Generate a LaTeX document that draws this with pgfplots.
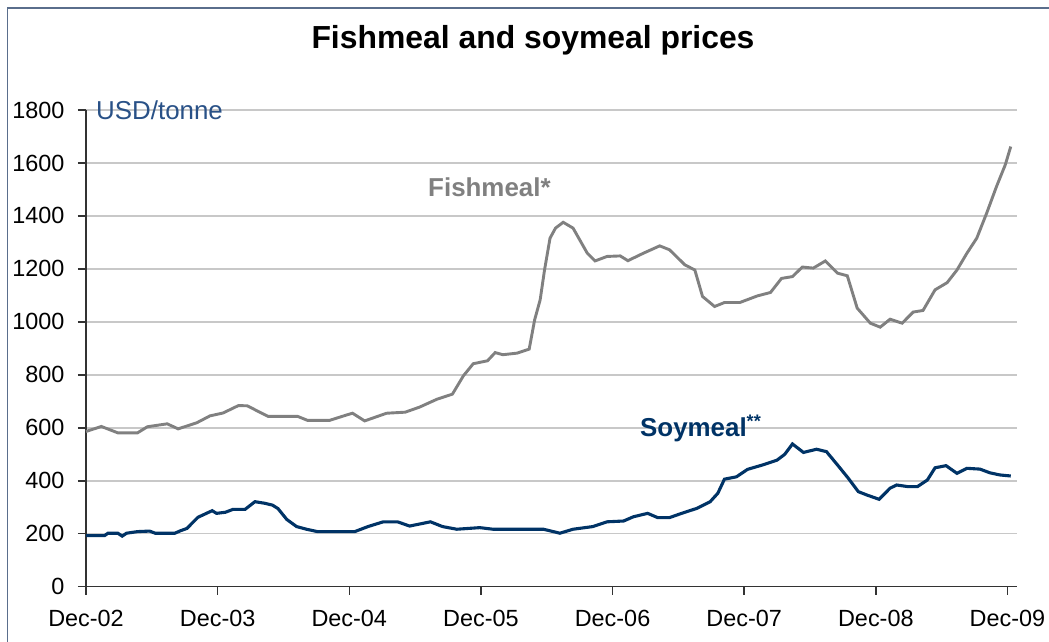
\documentclass[border=0pt]{standalone}
\usepackage{pgfplots}
\pgfplotsset{compat=1.18}
\usepackage{fontspec}
\setmainfont{Liberation Sans}
\definecolor{fishgrey}{RGB}{128,128,128}
\definecolor{soyblue}{RGB}{0,51,102}
\definecolor{unitblue}{RGB}{41,81,135}
\definecolor{gridgrey}{RGB}{200,200,200}
\definecolor{framecol}{RGB}{90,110,140}
\begin{document}
\begin{tikzpicture}
\useasboundingbox (0,0) rectangle (1049bp,642bp);
\fill[white] (0,0) rectangle (1049bp,642bp);
\draw[framecol, line width=1.5bp] (7.5bp,-20bp) -- (7.5bp,634bp) -- (1070bp,634bp);
\node[anchor=base, inner sep=0pt, font=\bfseries\fontsize{32}{38}\selectfont] at (533bp,593bp) {Fishmeal and soymeal prices};
\begin{axis}[
  at={(86bp,55.3bp)}, anchor=south west,
  scale only axis, width=931bp, height=476.7bp,
  xmin=0, xmax=84.87, ymin=0, ymax=1800,
  axis x line=bottom, axis y line=left,
  axis line style={-, line width=1.5bp, color=black!80},
  xtick={0,12,24,36,48,60,72,84},
  xticklabels={Dec-02,Dec-03,Dec-04,Dec-05,Dec-06,Dec-07,Dec-08,Dec-09},
  ytick={0,200,...,1800},
  ymajorgrids, major grid style={gridgrey, line width=1.5bp},
  tick align=outside, major tick length=8bp,
  tick style={line width=1.5bp, black!80},
  ticklabel style={font=\fontsize{23.5}{28}\selectfont},
  xticklabel style={yshift=-12bp},
  yticklabel style={xshift=-10bp},
  /pgf/number format/assume math mode=true,
  /pgf/number format/1000 sep={},
  clip=false,
]
\addplot[fishgrey, line width=2.9bp] coordinates {
(0.0,586) (1.4,605) (2.9,581) (4.7,581) (5.6,604) (7.4,615) (8.4,596) (10.1,619)
(11.3,645) (12.5,656) (13.9,684) (14.7,683) (16.6,643) (19.3,643) (20.2,628) (22.2,628)
(23.8,649) (24.3,655) (25.4,626) (27.4,655) (29.1,659) (30.4,678) (32.0,708) (33.4,727)
(34.4,796) (35.3,842) (36.6,853) (37.3,884) (38.0,876) (39.3,882) (40.4,897) (40.9,1008)
(41.4,1083) (41.8,1196) (42.3,1316) (42.8,1354) (43.5,1376) (44.4,1354) (45.7,1259) (46.4,1230)
(47.5,1247) (48.7,1249) (49.4,1231) (50.8,1259) (52.3,1287) (53.2,1272) (54.6,1215) (55.5,1196)
(56.2,1096) (57.3,1058) (58.2,1073) (59.6,1073) (61.2,1098) (62.4,1111) (63.4,1164) (64.4,1171)
(65.3,1207) (66.3,1203) (67.4,1230) (68.5,1184) (69.4,1174) (70.3,1052) (71.5,995) (72.4,980)
(73.3,1010) (74.4,995) (75.4,1037) (76.3,1043) (77.4,1121) (78.5,1148) (79.4,1196) (80.3,1259)
(81.2,1316) (82.1,1410) (83.0,1511) (83.8,1593) (84.3,1662)
};
\addplot[soyblue, line width=3.1bp] coordinates {
(0.0,193) (1.7,193) (2.0,202) (2.9,202) (3.3,191) (3.7,202) (4.7,208) (5.8,210)
(6.3,202) (8.1,202) (8.6,211) (9.2,220) (10.2,262) (11.5,287) (11.9,277) (12.7,281)
(13.4,292) (14.5,292) (15.4,321) (16.3,315) (17.0,308) (17.5,295) (18.3,254) (19.2,227)
(20.1,217) (21.1,208) (23.2,208) (24.5,208) (25.7,227) (27.1,245) (28.4,245) (29.5,229)
(31.4,245) (32.5,227) (33.8,217) (35.9,223) (37.1,217) (41.7,217) (43.2,202) (44.4,217)
(46.2,227) (47.5,245) (49.0,248) (49.9,264) (51.2,277) (52.1,261) (53.2,261) (54.3,277)
(55.7,296) (56.9,321) (57.6,353) (58.2,406) (59.3,415) (60.3,443) (61.7,460) (63.0,478)
(63.7,500) (64.4,539) (65.4,507) (66.6,519) (67.5,510) (68.5,460) (69.5,409) (70.4,359)
(71.2,346) (72.3,330) (73.3,372) (73.9,384) (74.9,378) (75.8,378) (76.7,403) (77.4,449)
(78.4,457) (79.4,428) (80.3,447) (81.5,444) (82.4,430) (83.3,422) (84.3,418)
};
\node[anchor=base west, inner sep=0pt, text=fishgrey, font=\bfseries\fontsize{26}{30}\selectfont] at (axis cs:31.18,1473) {Fishmeal*};
\node[anchor=base west, inner sep=0pt, text=soyblue, font=\bfseries\fontsize{26}{30}\selectfont] at (axis cs:50.5,569) {Soymeal\textsuperscript{**}};
\node[anchor=base west, inner sep=0pt, text=unitblue, font=\fontsize{26}{30}\selectfont] at (axis cs:0.91,1765) {USD/tonne};
\end{axis}
\end{tikzpicture}
\end{document}
